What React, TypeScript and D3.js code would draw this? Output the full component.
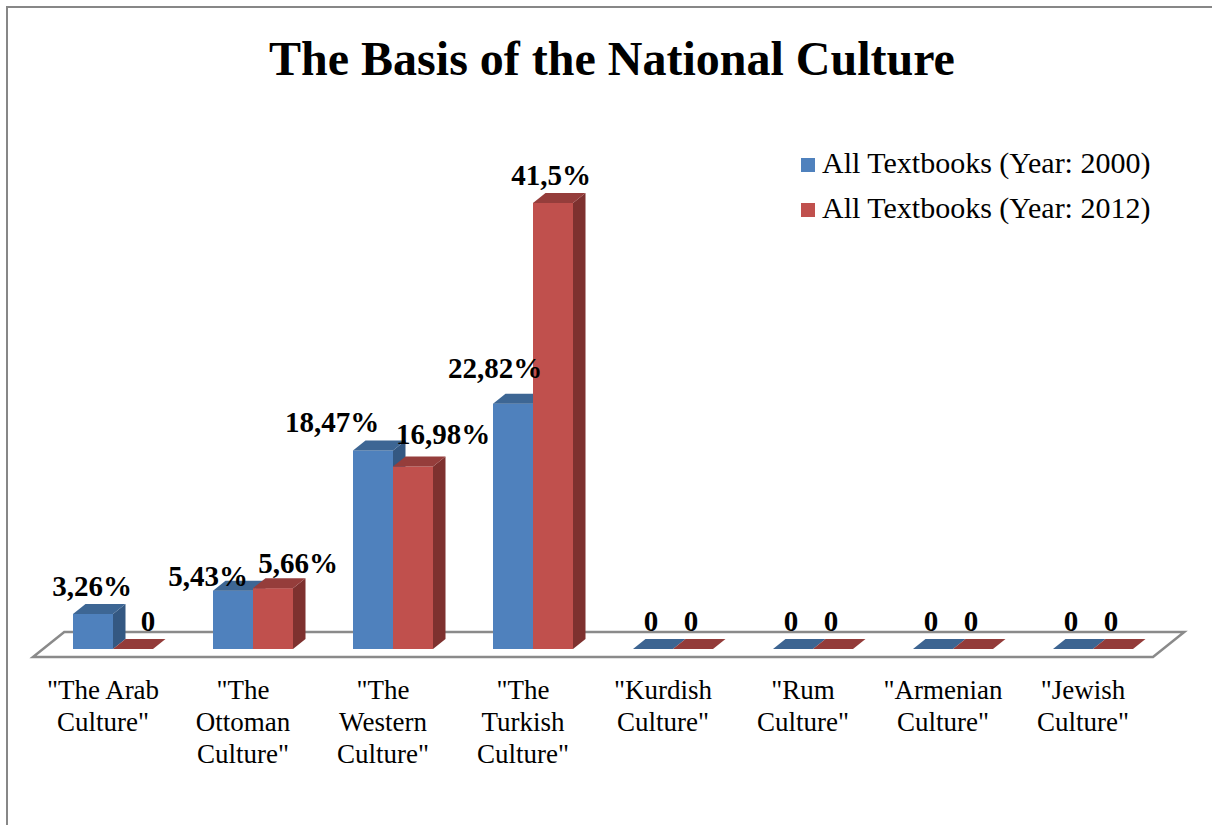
import React from "react";
import * as d3 from "d3";

const categories = [
  '"The Arab\nCulture"',
  '"The\nOttoman\nCulture"',
  '"The\nWestern\nCulture"',
  '"The\nTurkish\nCulture"',
  '"Kurdish\nCulture"',
  '"Rum\nCulture"',
  '"Armenian\nCulture"',
  '"Jewish\nCulture"',
];
const seriesNames = ["All Textbooks (Year: 2000)", "All Textbooks (Year: 2012)"];
const values2000 = [3.26, 5.43, 18.47, 22.82, 0, 0, 0, 0];
const values2012 = [0, 5.66, 16.98, 41.5, 0, 0, 0, 0];

// layout: label nudges (dx, dy) relative to the default label anchor
const labelNudge2000: [number, number][] = [[1, 0], [-23, 13], [-39, 0], [-16, -8], [0, 0], [0, 0], [0, 0], [0, 0]];
const labelNudge2012: [number, number][] = [[17, 0], [27, 3], [32, -4], [0, 0], [0, 0], [0, 0], [0, 0], [0, 0]];

const W = 1212;
const H = 825;
const FRONT_Y = 649; // baseline of bar front faces
const DX = 12.5;
const DY = -10;
const FONT = '"Liberation Serif", "Times New Roman", serif';

const colors = [
  { front: "#4F81BD", top: "#3D6694", side: "#345882", flat: "#3C6491" },
  { front: "#C0504D", top: "#953D3B", side: "#7E312F", flat: "#933B39" },
];

function fmt(v: number) {
  return v === 0 ? "0" : String(v).replace(".", ",") + "%";
}

export default function App() {
  const x = d3.scaleBand<string>().domain(categories).range([43, 43 + 140 * categories.length]).padding(0);
  const sub = d3.scaleBand<number>().domain([0, 1]).range([0, x.bandwidth()]).paddingInner(0).paddingOuter(0.75);
  const y = d3.scaleLinear().domain([0, 45]).range([FRONT_Y, FRONT_Y - 45 * 10.75]);

  const series = [values2000, values2012];
  const nudges = [labelNudge2000, labelNudge2012];

  // floor
  const floorFrontY = FRONT_Y + 8;
  const floorBackY = FRONT_Y + DY - 7;
  const r = DX / -DY;
  const fl = 43 - 8 * r;
  const fr = 43 + 140 * categories.length - 8 * r;
  const depthX = (floorFrontY - floorBackY) * r;
  const floorPts = [
    [fl, floorFrontY],
    [fr, floorFrontY],
    [fr + depthX, floorBackY],
    [fl + depthX, floorBackY],
  ];

  const bars: React.ReactNode[] = [];
  const labels: React.ReactNode[] = [];
  categories.forEach((c, i) => {
    series.forEach((vals, s) => {
      const v = vals[i];
      const bx = (x(c) as number) + (sub(s) as number);
      const bw = sub.bandwidth();
      const ty = y(v);
      const col = colors[s];
      if (v === 0) {
        bars.push(
          <polygon
            key={`b${i}-${s}`}
            points={`${bx},${FRONT_Y} ${bx + bw},${FRONT_Y} ${bx + bw + DX},${FRONT_Y + DY} ${bx + DX},${FRONT_Y + DY}`}
            fill={col.flat}
          />
        );
      } else {
        bars.push(
          <g key={`b${i}-${s}`}>
            <rect x={bx} y={ty} width={bw} height={FRONT_Y - ty} fill={col.front} />
            <polygon
              points={`${bx + bw},${ty} ${bx + bw + DX},${ty + DY} ${bx + bw + DX},${FRONT_Y + DY} ${bx + bw},${FRONT_Y}`}
              fill={col.side}
            />
            <polygon
              points={`${bx},${ty} ${bx + bw},${ty} ${bx + bw + DX},${ty + DY} ${bx + DX},${ty + DY}`}
              fill={col.top}
            />
          </g>
        );
      }
      const [nx, ny] = nudges[s][i];
      labels.push(
        <text
          key={`l${i}-${s}`}
          x={bx + bw / 2 - 2 + nx}
          y={ty + DY - 8 + ny}
          textAnchor="middle"
          fontFamily={FONT}
          fontWeight="bold"
          fontSize={29}
          fill="#000"
        >
          {fmt(v)}
        </text>
      );
    });
  });

  return (
    <svg
      width={W}
      height={H}
      style={{ position: "absolute", left: 0, top: 0, background: "#fff" }}
    >
      <path d={`M7,${H} V7 H${W}`} fill="none" stroke="#878787" strokeWidth={2} />
      <text x={612} y={75} textAnchor="middle" fontFamily={FONT} fontWeight="bold" fontSize={48}>
        The Basis of the National Culture
      </text>
      <polygon
        points={floorPts.map((p) => p.join(",")).join(" ")}
        fill="#fff"
        stroke="#8A8A8A"
        strokeWidth={2.5}
        strokeLinejoin="miter"
      />
      {bars}
      {labels}
      {categories.map((c) => {
        const lines = c.split("\n");
        const cx = (x(c) as number) + x.bandwidth() / 2 - 10;
        return (
          <text key={c} textAnchor="middle" fontFamily={FONT} fontSize={27} fill="#000">
            {lines.map((ln, k) => (
              <tspan key={k} x={cx} y={699 + k * 32}>
                {ln}
              </tspan>
            ))}
          </text>
        );
      })}
      {seriesNames.map((n, s) => (
        <g key={n}>
          <rect x={801} y={158 + s * 45} width={14} height={14} fill={colors[s].front} />
          <text x={822} y={173 + s * 45} fontFamily={FONT} fontSize={30} fill="#000">
            {n}
          </text>
        </g>
      ))}
    </svg>
  );
}
